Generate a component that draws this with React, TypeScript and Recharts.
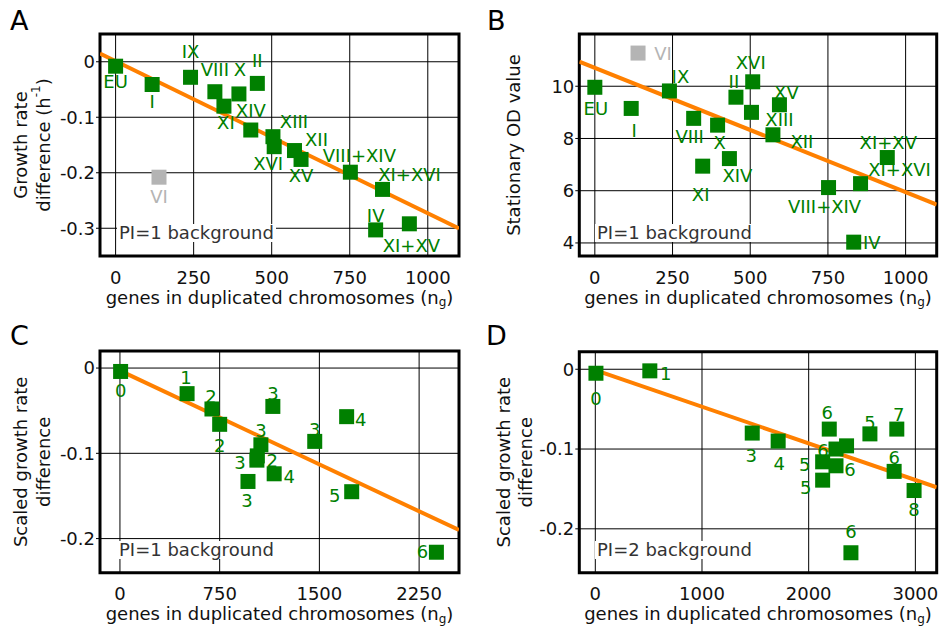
import React from 'react';
import { ScatterChart, Scatter, XAxis, YAxis, CartesianGrid, ReferenceArea, Label } from 'recharts';

const FONT = '"DejaVu Sans", Verdana, sans-serif';
const GREEN = '#008000';
const GREY = '#b4b4b4';
const ORANGE = '#ff8000';

// A + B: single / double chromosome gains in the PI=1 background
const chromLabels = ['EU', 'I', 'IX', 'VIII', 'X', 'II', 'XI', 'XIV', 'XIII', 'XVI', 'XII', 'XV', 'VIII+XIV', 'XI+XVI', 'IV', 'XI+XV'];
const chromGenes = [0, 117, 240, 318, 395, 454, 347, 433, 504, 508, 573, 594, 752, 855, 833, 941];
const growthDiff = [-0.008, -0.041, -0.028, -0.054, -0.058, -0.039, -0.080, -0.123, -0.135, -0.153, -0.160, -0.176, -0.199, -0.230, -0.303, -0.292];
const odValue = [9.96, 9.15, 9.82, 8.77, 8.51, 9.58, 6.94, 7.23, 9.0, 10.17, 8.14, 9.29, 6.12, 6.27, 4.03, 7.27];

// chromosome VI, grey (left out of the fit)
const outLabels = ['VI'];
const outGenes = [139];
const outGrowth = [-0.208];
const outOd = [11.27];

// fitted lines (end points)
const fitAGenes = [-50, 1100];
const fitAGrowth = [0.0147, -0.3005];
const fitBGenes = [-50, 1100];
const fitBOd = [10.94, 5.47];

// C: PI=1, number of extra chromosomes
const cLabels = ['0', '1', '2', '2', '3', '2', '3', '3', '4', '3', '3', '4', '5', '6'];
const cGenes = [5, 505, 692, 750, 1150, 1033, 1060, 1030, 1160, 963, 1465, 1705, 1743, 2380];
const cScaled = [-0.004, -0.030, -0.048, -0.066, -0.045, -0.103, -0.090, -0.108, -0.124, -0.133, -0.086, -0.057, -0.145, -0.216];
const fitCGenes = [0, 2550];
const fitCScaled = [-0.003, -0.190];

// D: PI=2 background
const dLabels = ['0', '1', '3', '4', '6', '5', '7', '6', '', '5', '6', '5', '6', '8', '6'];
const dGenes = [6, 511, 1471, 1714, 2193, 2574, 2826, 2256, 2355, 2131, 2256, 2131, 2801, 2988, 2396];
const dScaled = [-0.005, -0.002, -0.080, -0.090, -0.075, -0.081, -0.075, -0.100, -0.096, -0.116, -0.121, -0.139, -0.128, -0.152, -0.230];
const fitDGenes = [0, 3200];
const fitDScaled = [-0.001, -0.148];

// label placement (px from square centre), same order as the data above
const offA = [[0, 15], [0, 17], [0, -26], [0, -22], [1, -24], [0, -23], [2, 16], [0, -20], [21, -15], [-6, 17], [22, -11], [0, 16], [9, -17], [27, -15], [0, -14], [2, 22]];
const offB = [[1, 21], [3, 22], [11, -14], [-4, 18], [2, 17], [-2, -16], [-2, 28], [8, 17], [28, 7], [-2, -19], [29, 7], [7, -12], [-4, 19], [39, -14], [18, 0], [1, -15]];
const offOutA = [[0, 19]];
const offOutB = [[25, 0]];
const offC = [[0, 19], [-1, -16], [-1, -12], [0, 21], [0, -13], [15, 5], [0, -14], [-17, 2], [15, 3], [-1, 19], [0, -12], [14, 3], [-17, 4], [-14, -1]];
const offD = [[0, 25], [16, 3], [-1, 22], [1, 22], [-2, -17], [0, -11], [2, -15], [-13, 1], [0, 0], [-18, 3], [14, 4], [-17, 7], [0, -14], [0, 19], [0, -21]];

const pts = (xs: number[], ys: number[], labels: string[], offs: number[][]) =>
  xs.map((x, i) => ({ x, y: ys[i], label: labels[i], dx: offs[i][0], dy: offs[i][1] }));
const line = (xs: number[], ys: number[]) => xs.map((x, i) => ({ x, y: ys[i] }));

const square = (fill: string) => (props: any) => {
  const { cx, cy } = props;
  if (cx == null || cy == null) return <g />;
  return <rect x={cx - 7.5} y={cy - 7.5} width={15} height={15} fill={fill} />;
};

const tag = (fill: string) => (props: any) => {
  const { cx, cy, payload } = props;
  if (cx == null || cy == null || !payload.label) return <g />;
  return (
    <text x={cx + payload.dx} y={cy + payload.dy} textAnchor="middle" dominantBaseline="central"
      fontFamily={FONT} fontSize={18} fill={fill}>
      {payload.label}
    </text>
  );
};

const tickStyle = { fontSize: 18, fill: '#111', fontFamily: FONT };

interface PanelProps {
  left: number; top: number; width: number; height: number;
  plot: { l: number; r: number; t: number; b: number };
  xDomain: [number, number]; xTicks: number[];
  yDomain: [number, number]; yTicks: number[];
  points: any[]; outliers?: any[]; fit: any[];
  yTitle: React.ReactNode;
  letter: string; letterPos: [number, number];
  bgText: string; bgPos: [number, number];
}

const Panel: React.FC<PanelProps> = (p) => {
  const yAxisW = 60;
  const xAxisH = 30;
  const margin = { left: p.plot.l - yAxisW, right: p.width - p.plot.r, top: p.plot.t, bottom: p.height - p.plot.b - xAxisH };
  const midX = (p.plot.l + p.plot.r) / 2;
  const midY = (p.plot.t + p.plot.b) / 2;
  return (
    <div style={{ position: 'absolute', left: p.left, top: p.top, width: p.width, height: p.height }}>
      <ScatterChart width={p.width} height={p.height} margin={margin}>
        <CartesianGrid stroke="#000" strokeWidth={1} />
        <XAxis type="number" dataKey="x" domain={p.xDomain} ticks={p.xTicks} allowDataOverflow interval={0}
          tickLine={false} axisLine={false} tickSize={0} tickMargin={15} tick={tickStyle} height={xAxisH}>
          <Label content={() => (
            <text x={midX} y={p.plot.b + 41} textAnchor="middle" dominantBaseline="central"
              fontFamily={FONT} fontSize={18} fill="#111">
              genes in duplicated chromosomes (n<tspan dy={5} fontSize={12}>g</tspan><tspan dy={-5}>)</tspan>
            </text>
          )} />
        </XAxis>
        <YAxis type="number" dataKey="y" domain={p.yDomain} ticks={p.yTicks} allowDataOverflow interval={0}
          tickLine={{ stroke: '#000' }} axisLine={false} tickSize={4} tickMargin={1} tick={tickStyle} width={yAxisW}>
          <Label content={() => (
            <g transform={`translate(0, ${midY})`}>{p.yTitle}</g>
          )} />
        </YAxis>
        <Scatter data={p.fit} line={{ stroke: ORANGE, strokeWidth: 4 }} shape={() => <g />} isAnimationActive={false} />
        {p.outliers && <Scatter data={p.outliers} shape={tag(GREY)} isAnimationActive={false} />}
        <Scatter data={p.points} shape={tag(GREEN)} isAnimationActive={false} />
        {p.outliers && <Scatter data={p.outliers} shape={square(GREY)} isAnimationActive={false} />}
        <Scatter data={p.points} shape={square(GREEN)} isAnimationActive={false} />
        <ReferenceArea x1={p.xDomain[0]} x2={p.xDomain[1]} y1={p.yDomain[0]} y2={p.yDomain[1]}
          fill="none" fillOpacity={0} stroke="#000" strokeWidth={3} ifOverflow="visible" />
      </ScatterChart>
      <div style={{ position: 'absolute', left: p.letterPos[0], top: p.letterPos[1], fontFamily: FONT, fontSize: 27, lineHeight: '27px', color: '#000' }}>
        {p.letter}
      </div>
      <div style={{ position: 'absolute', left: p.bgPos[0], top: p.bgPos[1], fontFamily: FONT, fontSize: 18, lineHeight: '18px', color: '#333', background: '#fff', padding: '0 2px', whiteSpace: 'nowrap' }}>
        {p.bgText}
      </div>
    </div>
  );
};

const vText = (x: number, children: React.ReactNode) => (
  <text x={x} y={0} transform={`rotate(-90, ${x}, 0)`} textAnchor="middle" dominantBaseline="central"
    fontFamily={FONT} fontSize={18} fill="#111">
    {children}
  </text>
);

export default function App() {
  const dataA = pts(chromGenes, growthDiff, chromLabels, offA);
  const outA = pts(outGenes, outGrowth, outLabels, offOutA);
  const dataB = pts(chromGenes, odValue, chromLabels, offB);
  const outB = pts(outGenes, outOd, outLabels, offOutB);
  const dataC = pts(cGenes, cScaled, cLabels, offC);
  const dataD = pts(dGenes, dScaled, dLabels, offD);

  return (
    <div style={{ position: 'absolute', left: 0, top: 0, width: 941, height: 627, background: '#fff', overflow: 'hidden' }}>
      <Panel left={0} top={0} width={470} height={310} plot={{ l: 100, r: 459, t: 34, b: 256 }}
        xDomain={[-50, 1100]} xTicks={[0, 250, 500, 750, 1000]}
        yDomain={[-0.35, 0.05]} yTicks={[-0.3, -0.2, -0.1, 0]}
        points={dataA} outliers={outA} fit={line(fitAGenes, fitAGrowth)}
        yTitle={<>{vText(20, 'Growth rate')}{vText(43, <>difference (h<tspan dy={-7} fontSize={12}>-1</tspan><tspan dy={7}>)</tspan></>)}</>}
        letter="A" letterPos={[10, 7]} bgText="PI=1 background" bgPos={[117, 224]} />
      <Panel left={470} top={0} width={471} height={310} plot={{ l: 109.3, r: 466.7, t: 34, b: 256 }}
        xDomain={[-50, 1100]} xTicks={[0, 250, 500, 750, 1000]}
        yDomain={[3.5, 12]} yTicks={[4, 6, 8, 10]}
        points={dataB} outliers={outB} fit={line(fitBGenes, fitBOd)}
        yTitle={vText(43, 'Stationary OD value')}
        letter="B" letterPos={[17, 7]} bgText="PI=1 background" bgPos={[125, 224]} />
      <Panel left={0} top={310} width={470} height={317} plot={{ l: 100, r: 459, t: 41, b: 262.7 }}
        xDomain={[-150, 2550]} xTicks={[0, 750, 1500, 2250]}
        yDomain={[-0.24, 0.02]} yTicks={[-0.2, -0.1, 0]}
        points={dataC} fit={line(fitCGenes, fitCScaled)}
        yTitle={<>{vText(20, 'Scaled growth rate')}{vText(43, 'difference')}</>}
        letter="C" letterPos={[10, 12]} bgText="PI=1 background" bgPos={[117, 231]} />
      <Panel left={470} top={310} width={471} height={317} plot={{ l: 109.3, r: 466.7, t: 41.7, b: 262.7 }}
        xDomain={[-150, 3200]} xTicks={[0, 1000, 2000, 3000]}
        yDomain={[-0.255, 0.022]} yTicks={[-0.2, -0.1, 0]}
        points={dataD} fit={line(fitDGenes, fitDScaled)}
        yTitle={<>{vText(33, 'Scaled growth rate')}{vText(55, 'difference')}</>}
        letter="D" letterPos={[16, 12]} bgText="PI=2 background" bgPos={[125, 231]} />
    </div>
  );
}
